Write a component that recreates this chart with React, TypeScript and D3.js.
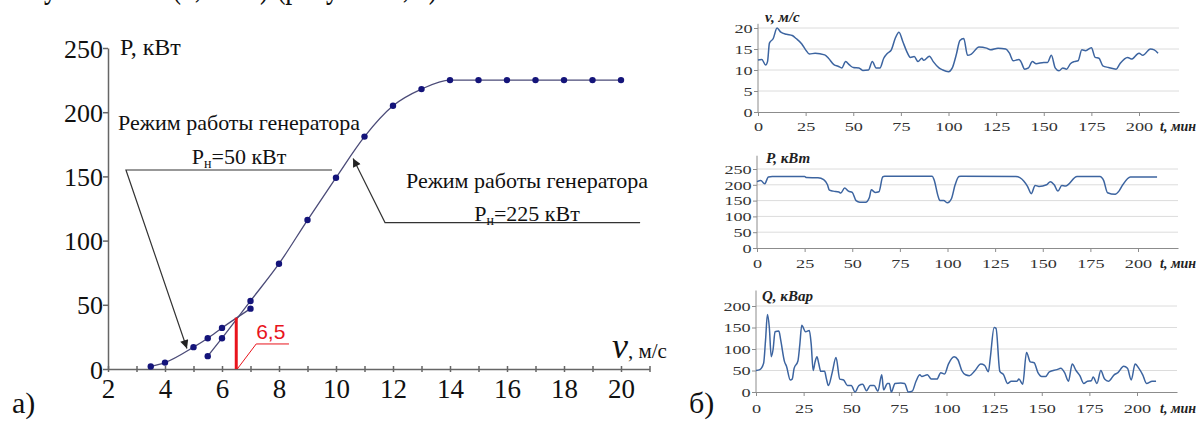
import { useEffect, useRef } from 'react';
import * as d3 from 'd3';

// left chart: P(v) for the two generator modes
const speedTicks = [2, 4, 6, 8, 10, 12, 14, 16, 18, 20];
const powerTicks = [0, 50, 100, 150, 200, 250];
const gen50Speed = [3.5, 4, 5, 5.5, 6, 7];
const gen50Power = [2, 5, 17, 24, 32, 47];
const gen225Speed = [5.5, 6, 7, 8, 9, 10, 11, 12, 13, 14, 15, 16, 17, 18, 19, 20];
const gen225Power = [10, 24, 53, 82, 116, 149, 181, 205, 218, 225, 225, 225, 225, 225, 225, 225];
const switchSpeed = 6.5;
const switchPower = 40;

// right charts: time series
const timeTicks = [0, 25, 50, 75, 100, 125, 150, 175, 200];
const windTicks = [0, 5, 10, 15, 20];
const activeTicks = [0, 50, 100, 150, 200, 250];
const reactiveTicks = [0, 50, 100, 150, 200];

const windT = [0, 2, 4, 5, 6, 8, 10, 12, 15, 18, 20, 23, 25, 27, 30, 35, 37, 40, 42, 44, 46, 48, 50, 53, 55, 58, 60, 62, 64, 66, 68, 70, 72, 74, 76, 78, 80, 82, 84, 86, 87, 90, 92, 95, 97, 100, 102, 104, 106, 108, 110, 112, 116, 120, 122, 126, 130, 132, 134, 137, 138, 140, 142, 144, 146, 150, 152, 154, 156, 158, 160, 162, 164, 166, 168, 170, 172, 175, 177, 179, 181, 184, 188, 190, 194, 196, 200, 202, 206, 208, 210];
const windV = [12.4, 12.5, 11.2, 12, 16.4, 17.5, 20, 19, 18.5, 18.2, 17.5, 16.2, 14.8, 13.8, 14, 13.6, 12.8, 11.2, 10.9, 10.5, 12, 11.2, 10.6, 10.5, 9.9, 10, 12, 10.5, 10.5, 12.8, 14, 14.8, 17.5, 19, 16.8, 14.5, 13, 13.2, 12, 12.8, 12.3, 13.3, 12, 10.5, 10, 9.6, 10.5, 13.5, 17, 17.5, 13.5, 13.8, 15.5, 15.2, 14.8, 15.2, 15, 14, 12.2, 12.5, 12, 10.2, 10.5, 12, 11.5, 11.8, 11.8, 13.5, 10.5, 9.8, 10.5, 10.2, 11.5, 12, 12.2, 14.8, 14.6, 15.3, 13, 12.8, 11, 10.6, 10.2, 11.5, 13, 12.6, 14, 13.5, 15, 14.8, 14];

const activeT = [0, 2, 4, 6, 8, 25, 26, 32, 35, 37, 38, 40, 43, 44, 46, 48, 50, 52, 54, 57, 59, 60, 62, 64, 66, 67, 92, 93, 95, 96, 98, 100, 102, 104, 106, 107, 136, 140, 142, 144, 146, 148, 152, 154, 156, 158, 160, 162, 168, 180, 182, 184, 188, 190, 192, 196, 210];
const activeP = [210, 214, 203, 225, 226, 226, 223, 222, 216, 200, 183, 180, 177, 174, 190, 180, 176, 150, 145, 145, 160, 184, 176, 178, 225, 227, 227, 215, 165, 150, 150, 143, 155, 200, 226, 227, 226, 212, 195, 172, 198, 195, 200, 210, 200, 180, 198, 196, 226, 226, 213, 175, 170, 180, 200, 225, 225];

const reactiveT = [0, 2, 4, 5, 6, 7, 8, 9, 10, 12, 13, 15, 16, 18, 19, 20, 22, 23, 24, 26, 28, 29, 30, 31, 32, 33, 34, 36, 37, 38, 40, 42, 44, 46, 48, 50, 52, 54, 56, 58, 60, 62, 64, 66, 67, 69, 70, 71, 73, 76, 78, 80, 82, 84, 86, 87, 90, 92, 95, 97, 99, 101, 104, 106, 108, 110, 112, 115, 118, 120, 122, 123, 125, 126, 128, 130, 132, 134, 137, 138, 140, 142, 144, 146, 148, 150, 152, 154, 158, 160, 162, 164, 166, 168, 170, 172, 174, 176, 177, 179, 181, 183, 185, 188, 190, 193, 195, 197, 199, 201, 203, 205, 208, 210];
const reactiveQ = [50, 52, 67, 120, 180, 150, 82, 100, 140, 142, 120, 70, 60, 28, 30, 55, 72, 110, 155, 140, 143, 110, 50, 70, 82, 65, 48, 48, 30, 15, 45, 80, 30, 28, 15, 15, 0, 15, 18, 3, 15, 15, 2, 40, 5, 20, 20, 0, 20, 21, 20, 0, 2, 25, 40, 36, 40, 30, 30, 45, 42, 65, 82, 75, 50, 40, 38, 50, 65, 62, 47, 80, 150, 148, 48, 40, 20, 25, 25, 30, 18, 92, 70, 68, 45, 36, 36, 47, 52, 55, 45, 25, 65, 50, 38, 20, 25, 26, 35, 20, 50, 30, 25, 40, 45, 60, 55, 28, 65, 55, 40, 20, 25, 25];

const serif = "'Liberation Serif', 'DejaVu Serif', 'Times New Roman', serif";
const sans = "'Liberation Sans', Arial, sans-serif";

const zip = (a: number[], b: number[]) => a.map((d, i) => [d, b[i]] as [number, number]);

function drawLeft(svg: any) {
  const x = d3.scaleLinear().domain([2, 21]).range([108, 649.5]);
  const y = d3.scaleLinear().domain([0, 250]).range([369, 48]);

  const defs = svg.append('defs');
  defs
    .append('marker')
    .attr('id', 'arr')
    .attr('viewBox', '0 0 10 10')
    .attr('refX', 10)
    .attr('refY', 5)
    .attr('markerWidth', 9)
    .attr('markerHeight', 7)
    .attr('orient', 'auto')
    .append('path')
    .attr('d', 'M0,0L10,5L0,10z')
    .attr('fill', '#222');

  // axes
  const gy = svg
    .append('g')
    .attr('transform', `translate(${x(2)},0)`)
    .call(d3.axisLeft(y).tickValues(powerTicks).tickSize(5).tickSizeOuter(0));
  gy.attr('font-family', serif);
  gy.select('.domain').attr('stroke', '#666').attr('stroke-width', 1.5);
  gy.selectAll('line').attr('stroke', '#666').attr('stroke-width', 1.5);
  gy.selectAll('text')
    .style('font-family', serif)
    .attr('font-size', 26)
    .attr('fill', '#111')
    .attr('x', -5)
    .attr('dy', '0.35em');

  const gx = svg
    .append('g')
    .attr('transform', `translate(0,${y(0)})`)
    .call(
      d3
        .axisBottom(x)
        .tickValues(d3.range(2, 22))
        .tickSize(0)
        .tickSizeOuter(0)
        .tickFormat((d: any) => (speedTicks.includes(d) ? String(d) : ''))
    );
  gx.attr('font-family', serif);
  gx.select('.domain').attr('stroke', '#666').attr('stroke-width', 1.5);
  gx.selectAll('.tick line').attr('y1', -3).attr('y2', 3).attr('stroke', '#666').attr('stroke-width', 1.5);
  gx.selectAll('text')
    .style('font-family', serif)
    .attr('font-size', 27)
    .attr('fill', '#111')
    .attr('y', 29)
    .attr('dy', 0);

  // curves
  const line = d3
    .line()
    .x((d: any) => x(d[0]))
    .y((d: any) => y(d[1]))
    .curve(d3.curveMonotoneX);
  const series = [zip(gen50Speed, gen50Power), zip(gen225Speed, gen225Power)];
  series.forEach((pts) => {
    svg
      .append('path')
      .attr('d', line(pts))
      .attr('fill', 'none')
      .attr('stroke', '#4b4b78')
      .attr('stroke-width', 1.3);
    svg
      .selectAll(null)
      .data(pts)
      .enter()
      .append('circle')
      .attr('cx', (d: any) => x(d[0]))
      .attr('cy', (d: any) => y(d[1]))
      .attr('r', 3.2)
      .attr('fill', '#14147a');
  });

  // red marker at 6.5 m/s
  svg
    .append('line')
    .attr('x1', x(switchSpeed))
    .attr('x2', x(switchSpeed))
    .attr('y1', y(0))
    .attr('y2', y(switchPower))
    .attr('stroke', '#e8141c')
    .attr('stroke-width', 3);
  svg
    .append('polyline')
    .attr('points', `${x(switchSpeed) + 1},${y(0)} ${x(7.2)},${y(19.5)} ${x(8.35)},${y(19.5)}`)
    .attr('fill', 'none')
    .attr('stroke', '#e8141c')
    .attr('stroke-width', 1);
  svg
    .append('text')
    .attr('x', x(7.2))
    .attr('y', y(23))
    .style('font-family', sans)
    .attr('font-size', 21)
    .attr('fill', '#e8141c')
    .text('6,5');

  // annotations
  const anno = (pts: number[][]) =>
    svg
      .append('polyline')
      .attr('points', pts.map((p) => `${x(p[0])},${y(p[1])}`).join(' '))
      .attr('fill', 'none')
      .attr('stroke', '#333')
      .attr('stroke-width', 1.2)
      .attr('marker-end', 'url(#arr)');
  anno([[9.86, 155], [2.63, 155], [4.77, 16]]);
  anno([[20.67, 114], [11.72, 114], [10.6, 164]]);

  const label = (cx: number, top: number, sub: string) => {
    svg
      .append('text')
      .attr('x', x(cx))
      .attr('y', y(top))
      .attr('text-anchor', 'middle')
      .style('font-family', serif)
      .attr('font-size', 22)
      .attr('fill', '#111')
      .text('Режим работы генератора');
    const t = svg
      .append('text')
      .attr('x', x(cx))
      .attr('y', y(top - 26))
      .attr('text-anchor', 'middle')
      .style('font-family', serif)
      .attr('font-size', 22)
      .attr('fill', '#111');
    t.append('tspan').text('P');
    t.append('tspan').attr('font-size', 14).attr('dy', 4).text('н');
    t.append('tspan').attr('dy', -4).text(sub);
  };
  label(6.6, 186, '=50 кВт');
  label(16.7, 141, '=225 кВт');

  svg
    .append('text')
    .attr('x', 120)
    .attr('y', 55)
    .style('font-family', serif)
    .attr('font-size', 24)
    .attr('fill', '#111')
    .text('P, кВт');
  const vl = svg
    .append('text')
    .attr('x', 612)
    .attr('y', 358)
    .style('font-family', serif)
    .attr('fill', '#111');
  vl.append('tspan').attr('font-size', 36).attr('font-style', 'italic').text('v');
  vl.append('tspan').attr('font-size', 21).text(', м/с');

  const plain = (tx: number, ty: number, size: number, s: string, len?: number) => {
    const t = svg
      .append('text')
      .attr('x', tx)
      .attr('y', ty)
      .style('font-family', serif)
      .attr('font-size', size)
      .attr('fill', '#111')
      .text(s);
    if (len) t.attr('textLength', len).attr('lengthAdjust', 'spacingAndGlyphs');
  };
  plain(12, 413, 30, 'а)');
  plain(689, 413, 30, 'б)');
  // caption of the page above, mostly cut off by the frame
  plain(44, -3, 38, 'установки  (6,5 м/с)  (рисунок 1, а)', 394);
}

function drawSmall(svg: any, cfg: any) {
  const x = d3.scaleLinear().domain([0, 221]).range([cfg.x0, cfg.x0 + 221 * 1.905]);
  const y = d3.scaleLinear().domain([0, cfg.max]).range([cfg.bottom, cfg.top]);
  const xEnd = x(221);

  svg
    .append('g')
    .selectAll('line')
    .data(cfg.ticks.filter((d: number) => d > 0))
    .enter()
    .append('line')
    .attr('x1', cfg.x0)
    .attr('x2', xEnd)
    .attr('y1', (d: number) => y(d))
    .attr('y2', (d: number) => y(d))
    .attr('stroke', '#dcdcdc')
    .attr('stroke-width', 1);

  const gy = svg
    .append('g')
    .attr('transform', `translate(${cfg.x0},0)`)
    .call(d3.axisLeft(y).tickValues(cfg.ticks).tickSize(4).tickSizeOuter(0));
  gy.select('.domain').attr('d', `M0,${cfg.bottom}V${y(cfg.axisTop)}`).attr('stroke', '#8c8c8c');
  gy.selectAll('line').attr('stroke', '#8c8c8c');
  gy.selectAll('text')
    .style('font-family', serif)
    .attr('font-size', 13)
    .attr('fill', '#333')
    .attr('x', -3.8)
    .attr('dy', '0.33em')
    .attr('transform', 'scale(1.4,1)');

  const gx = svg
    .append('g')
    .attr('transform', `translate(0,${cfg.bottom})`)
    .call(d3.axisBottom(x).tickValues(timeTicks).tickSize(4).tickSizeOuter(0));
  gx.select('.domain').attr('stroke', '#8c8c8c');
  gx.selectAll('line').attr('stroke', '#8c8c8c');
  gx.selectAll('text')
    .style('font-family', serif)
    .attr('font-size', 13)
    .attr('fill', '#333')
    .attr('y', cfg.labelGap)
    .attr('dy', 0)
    .attr('transform', 'scale(1.4,1)');

  const line = d3
    .line()
    .x((d: any) => x(d[0]))
    .y((d: any) => y(d[1]))
    .curve(d3.curveMonotoneX);
  svg
    .append('path')
    .attr('d', line(zip(cfg.t, cfg.v)))
    .attr('fill', 'none')
    .attr('stroke', '#3c64a0')
    .attr('stroke-width', 1.5);

  svg
    .append('text')
    .attr('x', cfg.titleX)
    .attr('y', cfg.titleY)
    .style('font-family', serif)
    .attr('font-size', 15)
    .attr('font-weight', 'bold')
    .attr('font-style', 'italic')
    .attr('fill', '#222')
    .text(cfg.title);
  svg
    .append('text')
    .attr('x', 1160)
    .attr('y', cfg.bottom + cfg.labelGap)
    .style('font-family', serif)
    .attr('font-size', 14)
    .attr('font-weight', 'bold')
    .attr('font-style', 'italic')
    .attr('fill', '#222')
    .text('t, мин');
}

const App = () => {
  const ref = useRef(null);

  useEffect(() => {
    if (!ref.current) return;
    const svg = d3.select(ref.current);
    svg.selectAll('*').remove();
    drawLeft(svg);
    drawSmall(svg, {
      t: windT, v: windV, ticks: windTicks, max: 20, axisTop: 21,
      x0: 758, bottom: 112, top: 28, labelGap: 19,
      title: 'v, м/с', titleX: 765, titleY: 22,
    });
    drawSmall(svg, {
      t: activeT, v: activeP, ticks: activeTicks, max: 250, axisTop: 292,
      x0: 757, bottom: 248, top: 169, labelGap: 20,
      title: 'P, кВт', titleX: 766, titleY: 163,
    });
    drawSmall(svg, {
      t: reactiveT, v: reactiveQ, ticks: reactiveTicks, max: 200, axisTop: 236,
      x0: 756, bottom: 392, top: 306, labelGap: 21,
      title: 'Q, кВар', titleX: 762, titleY: 301,
    });
  }, []);

  return (
    <svg
      ref={ref}
      width={1203}
      height={422}
      style={{ position: 'absolute', left: 0, top: 0, background: '#fff' }}
    />
  );
};

export default App;
